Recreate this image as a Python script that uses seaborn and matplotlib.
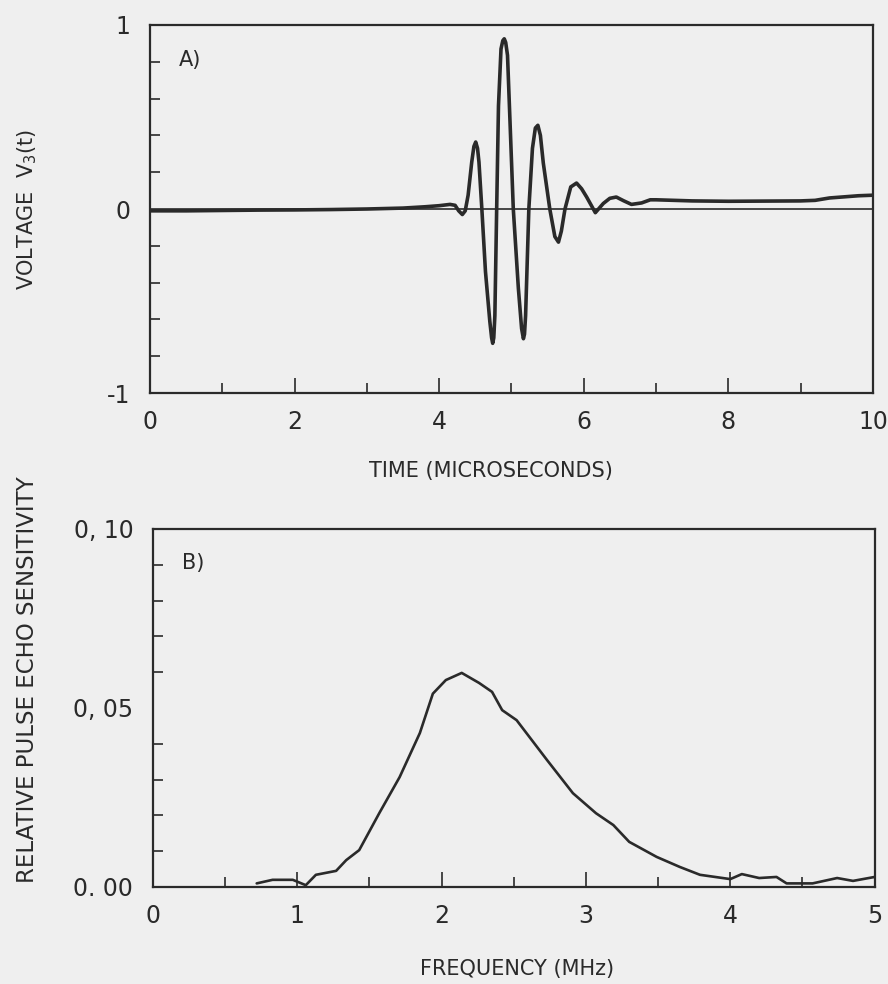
import matplotlib
matplotlib.use('Agg')
import matplotlib.pyplot as plt
import seaborn as sns
import pandas as pd
from matplotlib.ticker import MultipleLocator

# A) pulse echo waveform
time_us = [0.0, 0.5, 1.0, 1.5, 2.0, 2.5, 3.0, 3.5, 3.8, 4.0, 4.15, 4.22, 4.27, 4.32, 4.36,
           4.40, 4.45, 4.48, 4.505, 4.53, 4.55, 4.59, 4.64, 4.70, 4.725, 4.74, 4.755, 4.77,
           4.795, 4.82, 4.855, 4.88, 4.90, 4.92, 4.945, 4.98, 5.025, 5.095, 5.14, 5.165,
           5.18, 5.195, 5.24, 5.29, 5.33, 5.365, 5.40, 5.44, 5.53, 5.60, 5.65, 5.69, 5.74,
           5.82, 5.90, 5.97, 6.04, 6.16, 6.27, 6.36, 6.45, 6.55, 6.66, 6.80, 6.92, 7.0,
           7.5, 8.0, 8.5, 9.0, 9.2, 9.4, 9.6, 9.8, 10.0]
voltage = [-0.01, -0.01, -0.008, -0.006, -0.005, -0.003, 0.0, 0.005, 0.012, 0.018, 0.025,
           0.02, -0.01, -0.03, -0.01, 0.075, 0.255, 0.34, 0.364, 0.33, 0.255, 0.0, -0.34,
           -0.61, -0.70, -0.73, -0.70, -0.58, 0.0, 0.56, 0.87, 0.915, 0.925, 0.905, 0.835,
           0.47, 0.0, -0.43, -0.65, -0.705, -0.68, -0.58, 0.0, 0.33, 0.44, 0.455, 0.40,
           0.25, 0.0, -0.15, -0.18, -0.12, 0.0, 0.12, 0.141, 0.11, 0.065, -0.02, 0.03,
           0.058, 0.065, 0.045, 0.025, 0.033, 0.05, 0.05, 0.044, 0.042, 0.043, 0.044,
           0.047, 0.06, 0.066, 0.072, 0.075]

# B) relative pulse echo sensitivity spectrum
freq_mhz = [0.72, 0.83, 0.97, 1.06, 1.13, 1.27, 1.34, 1.43, 1.57, 1.71, 1.85, 1.94, 2.03,
            2.14, 2.26, 2.35, 2.42, 2.52, 2.73, 2.91, 3.07, 3.19, 3.30, 3.49, 3.65, 3.79,
            4.0, 4.08, 4.20, 4.32, 4.39, 4.57, 4.74, 4.85, 5.0]
sensitivity = [0.001, 0.002, 0.002, 0.0005, 0.0034, 0.0045, 0.0075, 0.0103, 0.0207, 0.0307,
               0.043, 0.054, 0.0578, 0.0598, 0.057, 0.0545, 0.0494, 0.0466, 0.0355, 0.0262,
               0.0206, 0.0173, 0.0126, 0.0084, 0.0056, 0.0034, 0.0022, 0.0036, 0.0025,
               0.0028, 0.001, 0.001, 0.0025, 0.0017, 0.0028]

top_xticks = [0, 2, 4, 6, 8, 10]
top_yticks = [-1, 0, 1]
bot_xticks = [0, 1, 2, 3, 4, 5]
bot_yticks = [0.0, 0.05, 0.10]
bot_ylabels = ['0. 00', '0, 05', '0, 10']

sns.set_style('ticks')
plt.rcParams['font.family'] = ['DejaVu Sans']
plt.rcParams['axes.unicode_minus'] = False
bg = '#efefef'
ink = '#2a2a2a'

fig = plt.figure(figsize=(8.88, 9.84), dpi=100, facecolor=bg)
ax1 = fig.add_axes([0.169, 0.6006, 0.814, 0.374])
ax2 = fig.add_axes([0.172, 0.0986, 0.813, 0.3638])

wave = pd.DataFrame({'t': time_us, 'v': voltage})
spec = pd.DataFrame({'f': freq_mhz, 's': sensitivity})

sns.lineplot(data=wave, x='t', y='v', ax=ax1, sort=False, estimator=None,
             color=ink, linewidth=2.6)
ax1.axhline(0, color=ink, linewidth=1.2)
ax1.set_xlim(0, 10)
ax1.set_ylim(-1, 1)
ax1.set_xticks(top_xticks)
ax1.set_yticks(top_yticks)
ax1.xaxis.set_minor_locator(MultipleLocator(1))
ax1.yaxis.set_minor_locator(MultipleLocator(0.2))
ax1.set_xlabel('TIME (MICROSECONDS)', fontsize=15)
ax1.set_ylabel('VOLTAGE  V$_3$(t)', fontsize=15)
ax1.xaxis.set_label_coords(0.472, -0.185)
ax1.yaxis.set_label_coords(-0.153, 0.5)
ax1.text(0.04, 0.905, 'A)', transform=ax1.transAxes, fontsize=15, color=ink,
         va='center')

sns.lineplot(data=spec, x='f', y='s', ax=ax2, sort=False, estimator=None,
             color=ink, linewidth=1.9)
ax2.set_xlim(0, 5)
ax2.set_ylim(0, 0.10)
ax2.set_xticks(bot_xticks)
ax2.set_yticks(bot_yticks)
ax2.set_yticklabels(bot_ylabels)
ax2.xaxis.set_minor_locator(MultipleLocator(0.5))
ax2.yaxis.set_minor_locator(MultipleLocator(0.01))
ax2.set_xlabel('FREQUENCY (MHz)', fontsize=15)
ax2.set_ylabel('RELATIVE PULSE ECHO SENSITIVITY', fontsize=16.5)
ax2.xaxis.set_label_coords(0.504, -0.2)
ax2.yaxis.set_label_coords(-0.157, 0.578)
ax2.text(0.04, 0.905, 'B)', transform=ax2.transAxes, fontsize=15, color=ink,
         va='center')

for ax in (ax1, ax2):
    ax.set_facecolor(bg)
    for side in ax.spines.values():
        side.set_color(ink)
        side.set_linewidth(1.6)
    ax.tick_params(which='major', direction='in', length=11, width=1.2, color=ink,
                   labelsize=17, labelcolor=ink, pad=12, top=False, right=False)
    ax.tick_params(which='minor', direction='in', length=7, width=1.2, color=ink,
                   top=False, right=False)
    ax.tick_params(axis='y', which='major', length=0, pad=14)
    ax.yaxis.label.set_color(ink)
    ax.xaxis.label.set_color(ink)

fig.savefig('out.png', dpi=100, facecolor=bg)
